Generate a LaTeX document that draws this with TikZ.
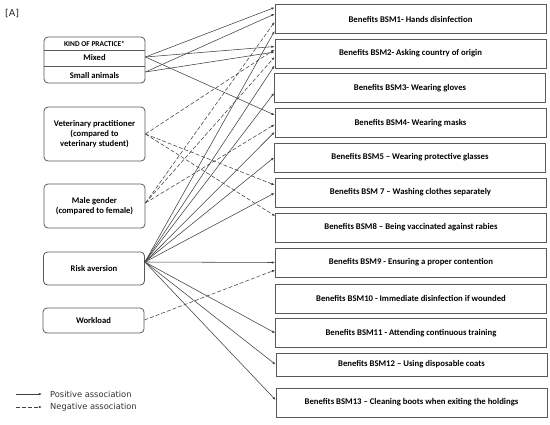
\documentclass[tikz,border=0pt]{standalone}
\usepackage{fontspec}
\setmainfont{Carlito}
\newfontfamily\legfont{DejaVu Sans}
\usetikzlibrary{arrows.meta,calc}
\begin{document}
\begin{tikzpicture}[x=1pt,y=-1pt,
  rbox/.style={draw=black!65,line width=0.8pt,minimum width=271pt,minimum height=29pt,inner sep=0pt,font=\fontsize{8.7}{10}\selectfont\bfseries},
  lbox/.style={draw=black!65,line width=0.8pt,rounded corners=4pt,minimum width=101pt,inner sep=0pt,align=center,font=\fontsize{8.6}{9.8}\selectfont\bfseries},
  posarr/.style={draw=black!75,line width=0.55pt,-{Latex[length=3.2pt,width=2.4pt]}},
  negarr/.style={posarr,dash pattern=on 4pt off 2pt},
  legtext/.style={anchor=west,inner sep=0pt,font=\legfont\fontsize{8.3}{10}\selectfont,text=black!80}]
\useasboundingbox (0,0) rectangle (550,424);
\node[anchor=north west,inner sep=0pt,font=\legfont\fontsize{9.5}{11}\selectfont,text=black!85] (lab) at (5,9) {[A]};
% right boxes
\node[rbox] (b1) at (410.5,19) {Benefits BSM1- Hands disinfection};
\node[rbox] (b2) at (410.5,53.5) {Benefits BSM2- Asking country of origin};
\node[rbox] (b3) at (410,88) {Benefits BSM3- Wearing gloves};
\node[rbox] (b4) at (410.5,123) {Benefits BSM4- Wearing masks};
\node[rbox] (b5) at (410,157.5) {Benefits BSM5 -- Wearing protective glasses};
\node[rbox] (b7) at (410.5,192.5) {Benefits BSM 7 -- Washing clothes separately};
\node[rbox] (b8) at (411,227.5) {Benefits BSM8 -- Being vaccinated against rabies};
\node[rbox] (b9) at (411,262.5) {Benefits BSM9 - Ensuring a proper contention};
\node[rbox] (b10) at (411,298.5) {Benefits BSM10 - Immediate disinfection if wounded};
\node[rbox] (b11) at (411,333) {Benefits BSM11 - Attending continuous training};
\node[rbox,minimum height=23pt] (b12) at (411.5,364.5) {Benefits BSM12 -- Using disposable coats};
\node[rbox] (b13) at (411.5,402.5) {Benefits BSM13 -- Cleaning boots when exiting the holdings};
% left boxes
\node[lbox,minimum height=46pt] (kind) at (94.5,60) {};
\draw[black!65,line width=0.6pt] (kind.west |- 0,50) -- (kind.east |- 0,50);
\draw[black!65,line width=0.6pt] (kind.west |- 0,66) -- (kind.east |- 0,66);
\node[font=\fontsize{7.4}{9}\selectfont\bfseries] (kindt) at (94.5,44) {KIND OF PRACTICE*};
\node[font=\fontsize{8.6}{9}\selectfont\bfseries] (mixed) at (94.5,57.5) {Mixed};
\node[font=\fontsize{8.6}{9}\selectfont\bfseries] (small) at (94.5,75.5) {Small animals};
\node[lbox,minimum height=54pt] (vet) at (94.5,134) {Veterinary practitioner\\(compared to\\veterinary student)};
\node[lbox,minimum height=44pt] (male) at (94.5,206) {Male gender\\(compared to female)};
\node[lbox,minimum height=33pt] (risk) at (94,268.5) {Risk aversion};
\node[lbox,minimum height=25pt] (work) at (93.5,320.5) {Workload};
% start points
\coordinate (mx) at (kind.east |- 0,57);
\coordinate (sm) at (kind.east |- 0,72);
\coordinate (vt) at (vet.east |- 0,134);
\coordinate (ml) at (male.east |- 0,203);
\coordinate (rk) at (risk.east |- 0,262);
\coordinate (wk) at (work.east |- 0,320);
% Mixed
\draw[posarr] (mx) -- ([yshift=11.5pt]b1.west);
\draw[posarr] (mx) -- ([yshift=7pt]b2.west);
\draw[posarr] (mx) -- ([yshift=8pt]b4.west);
% Small animals
\draw[posarr] (sm) -- ([yshift=5pt]b1.west);
\draw[posarr] (sm) -- ([yshift=1.5pt]b2.west);
% Vet
\draw[negarr] (vt) -- ([yshift=4pt]b2.west);
\draw[negarr] (vt) -- ([yshift=7.5pt]b7.west);
\draw[negarr] (vt) -- ([yshift=11.5pt]b8.west);
% Male
\draw[negarr] (ml) -- ([yshift=-3pt]b1.west);
\draw[negarr] (ml) -- ([yshift=-3.5pt]b2.west);
\draw[negarr] (ml) -- ([yshift=-1.5pt]b4.west);
% Risk
\draw[posarr] (rk) -- ([yshift=-12pt]b1.west);
\draw[posarr] (rk) -- ([yshift=-12pt]b2.west);
\draw[posarr] (rk) -- ([yshift=-5pt]b3.west);
\draw[posarr] (rk) -- ([yshift=-9pt]b4.west);
\draw[posarr] (rk) -- (b5.west);
\draw[posarr] (rk) -- ([yshift=-0.5pt]b7.west);
\draw[posarr] (rk) -- (b9.west);
\draw[posarr] (rk) -- (b11.west);
\draw[posarr] (rk) -- (b12.west);
\draw[posarr] (rk) -- ([yshift=2.5pt]b13.west);
% Workload
\draw[negarr] (wk) -- ([yshift=-7.5pt]b9.west);
% legend
\coordinate (l1a) at (16,394);
\coordinate (l1b) at (42,394);
\coordinate (l2a) at (16,407);
\coordinate (l2b) at (42,407);
\draw[posarr] (l1a) -- (l1b);
\draw[negarr] (l2a) -- (l2b);
\node[legtext] (t1) at (50,394) {Positive association};
\node[legtext] (t2) at (50,407) {Negative association};
\end{tikzpicture}
\end{document}
